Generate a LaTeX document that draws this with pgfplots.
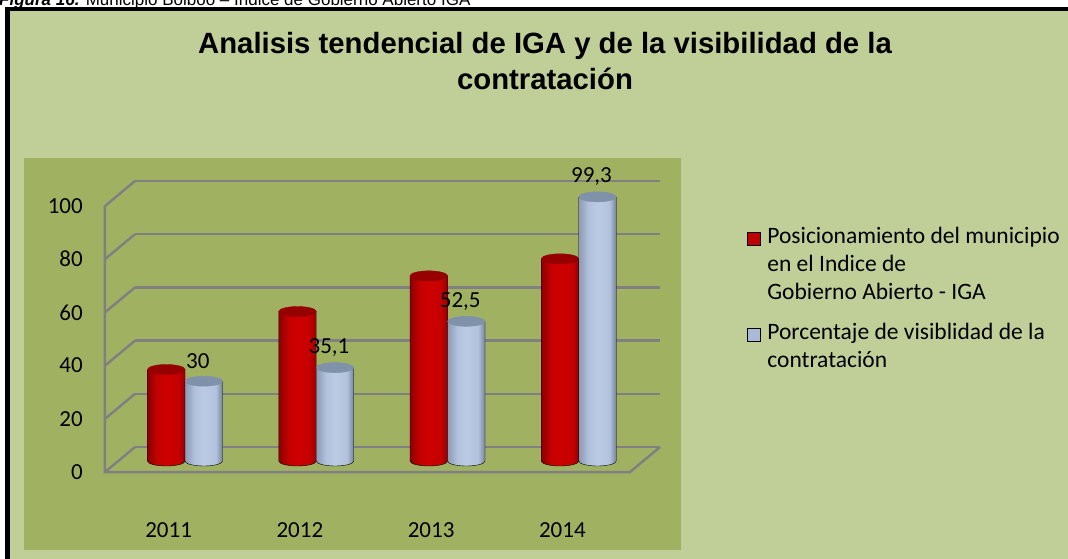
\documentclass[border=0pt]{standalone}
\usepackage{fontspec}
\setmainfont{Carlito}
\newfontfamily\arialfont{Liberation Sans}
\usepackage{pgfplots}
\usepackage{pgfplotstable}
\pgfplotsset{compat=1.18}

\definecolor{bglight}{RGB}{192,206,152}
\definecolor{bgplot}{RGB}{160,178,98}
\definecolor{gridgray}{RGB}{128,128,128}
\definecolor{rA}{RGB}{140,0,0}
\definecolor{rB}{RGB}{196,0,0}
\definecolor{rC}{RGB}{206,0,0}
\definecolor{rD}{RGB}{150,0,0}
\definecolor{rTop}{RGB}{150,0,0}
\definecolor{rLeg}{RGB}{192,0,0}
\definecolor{bA}{RGB}{140,154,180}
\definecolor{bB}{RGB}{178,194,220}
\definecolor{bC}{RGB}{188,203,228}
\definecolor{bD}{RGB}{118,132,156}
\definecolor{bTop}{RGB}{128,145,170}
\definecolor{bLeg}{RGB}{170,186,214}

\pgfdeclarehorizontalshading{redcyl}{100bp}{color(0bp)=(rA); color(25bp)=(rA); color(38bp)=(rB); color(50bp)=(rC); color(66bp)=(rB); color(75bp)=(rD); color(100bp)=(rD)}
\pgfdeclarehorizontalshading{bluecyl}{100bp}{color(0bp)=(bA); color(25bp)=(bA); color(38bp)=(bB); color(50bp)=(bC); color(66bp)=(bB); color(75bp)=(bD); color(100bp)=(bD)}

\pgfdeclareplotmark{cylinder}{}

\pgfplotstableread{
x year iga vis
0 2011 34.4 30
1 2012 56.2 35.1
2 2013 69.6 52.5
3 2014 76.0 99.3
}\datatable

\pgfplotsset{
  cyl/.style n args={2}{
    scatter, only marks, mark=cylinder, forget plot,
    visualization depends on={y \as \cylval},
    scatter/@pre marker code/.code={%
      \pgfmathsetmacro\cylh{2.66*\cylval}%
      \shade[shading=#1] (-18.75pt,0pt) -- (-18.75pt,-\cylh pt)
        arc[start angle=180, end angle=360, x radius=18.75pt, y radius=5pt]
        -- (18.75pt,0pt) -- cycle;
      \fill[#2] (0pt,0pt) ellipse [x radius=18.75pt, y radius=5pt];
    },
    scatter/@post marker code/.code={},
  },
}

\begin{document}
\begin{tikzpicture}
\useasboundingbox (0pt,0pt) rectangle (1068pt,558pt);
\clip (0pt,0pt) rectangle (1068pt,558pt);
% caption (cut at top)
\node[anchor=base west, inner sep=0pt, font=\arialfont\fontsize{17}{20}\selectfont] at (-1pt,552.5pt)
  {\textbf{\textit{Figura 16.}} Municipio Bolboo – Índice de Gobierno Abierto IGA};
% chart area
\fill[bglight] (10pt,-20pt) rectangle (1090pt,547pt);
\fill[black] (5pt,-20pt) rectangle (10pt,551pt);
\fill[black] (5pt,547pt) rectangle (1090pt,551pt);
\fill[bgplot] (24pt,8pt) rectangle (681pt,400pt);
% title
\node[anchor=base, inner sep=0pt, font=\arialfont\bfseries\fontsize{29.3}{34}\selectfont] at (545pt,504pt)
  {Analisis tendencial de IGA y de la visibilidad de la};
\node[anchor=base, inner sep=0pt, font=\arialfont\bfseries\fontsize{29.3}{34}\selectfont] at (545pt,468pt)
  {contratación};

% back wall with grid
\begin{axis}[
  at={(135pt,111pt)}, anchor=south west,
  scale only axis, width=525pt, height=266pt,
  xmin=-0.5, xmax=3.5, ymin=0, ymax=100,
  axis line style={draw=none}, major tick length=0pt,
  ytick={0,20,...,100}, ymajorgrids,
  grid style={line width=2.5pt, color=gridgray},
  xtick={0,1,2,3}, xticklabels={2011,2012,2013,2014},
  ticklabel style={font=\fontsize{23}{28}\selectfont, inner sep=0pt},
  yticklabel style={anchor=east, xshift=-52pt, yshift=-25pt},
  xticklabel style={anchor=north, xshift=-32pt, yshift=-75pt},
  /pgf/number format/assume math mode=true,
  clip=false,
]
\pgfplotsinvokeforeach{0,20,40,60,80,100}{
  \draw[line width=2.5pt, gridgray] ([xshift=-30pt,yshift=-25pt]axis cs:-0.5,#1) -- (axis cs:-0.5,#1);
}
\draw[line width=2.5pt, gridgray] ([xshift=-30pt,yshift=-25pt]axis cs:-0.5,100) -- ([xshift=-30pt,yshift=-25pt]axis cs:-0.5,0)
  -- ([xshift=-30pt,yshift=-25pt]axis cs:3.5,0) -- (axis cs:3.5,0);
\end{axis}

% cylinders (mid depth)
\begin{axis}[
  at={(119.4pt,97pt)}, anchor=south west,
  scale only axis, width=525pt, height=266pt,
  xmin=-0.5, xmax=3.5, ymin=0, ymax=100,
  hide axis, clip=false,
  /pgf/number format/assume math mode=true,
  /pgf/number format/use comma,
  legend image code/.code={\fill[#1] (0pt,-1pt) rectangle (13pt,12pt);},
  legend style={draw=none, fill=none, inner sep=0pt, outer sep=0pt,
    at={(axis description cs:1.1954,0.8895)}, anchor=north west,
    row sep=0pt, column sep=7pt,
    font=\fontsize{23.5}{28}\selectfont,
    nodes={inner sep=0pt, outer sep=0pt, text height=19.6pt, text depth=8.4pt},
    cells={anchor=base west}},
]
\addplot[cyl={redcyl}{rTop}] table[x expr=\thisrow{x}-1/7, y=iga]{\datatable};
\addplot[cyl={bluecyl}{bTop}] table[x expr=\thisrow{x}+1/7, y=vis]{\datatable};
\addplot[only marks, mark=cylinder, forget plot,
  nodes near coords,
  nodes near coords style={anchor=center, yshift=20pt, xshift=-6pt, font=\fontsize{23}{28}\selectfont, text=black}]
  table[x expr=\thisrow{x}+1/7, y=vis]{\datatable};
\addlegendimage{fill=rLeg}
\addlegendentry{Posicionamiento del municipio}
\addlegendimage{empty legend}
\addlegendentry{en el Indice de}
\addlegendimage{empty legend}
\addlegendentry[text depth=20.4pt]{Gobierno Abierto - IGA}
\addlegendimage{fill=bLeg}
\addlegendentry{Porcentaje de visiblidad de la}
\addlegendimage{empty legend}
\addlegendentry{contratación}
\end{axis}
\end{tikzpicture}
\end{document}
